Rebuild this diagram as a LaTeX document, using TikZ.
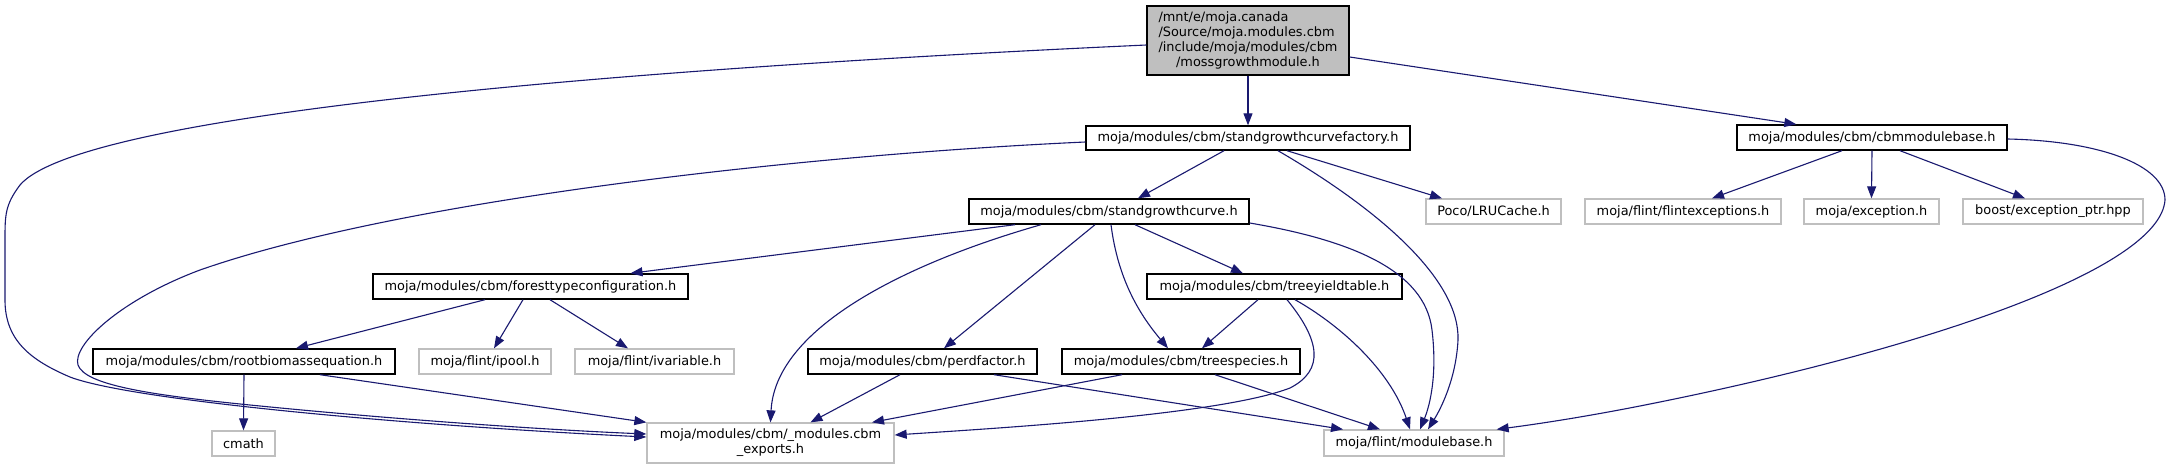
\documentclass[tikz,border=0pt]{standalone}
\usepackage{fontspec}
\setmainfont{DejaVu Sans}
\usetikzlibrary{arrows.meta}
\definecolor{edgeblue}{HTML}{191970}
\definecolor{greyBorder}{HTML}{BFBFBF}
\definecolor{rootfill}{HTML}{BFBFBF}
\tikzset{
  nbox/.style={draw=black, line width=1.4pt, fill=white, inner sep=0pt, text=black, font=\fontsize{12.9}{15}\selectfont},
  xbox/.style={draw=greyBorder, line width=1.3pt, fill=white, inner sep=0pt, text=black, font=\fontsize{12.9}{15}\selectfont},
  e/.style={draw=edgeblue, line width=1.1pt, -{Triangle[length=12pt,width=9pt]}, fill=none}
}
\begin{document}
\begin{tikzpicture}[x=1pt,y=-1pt]
\fill[white] (0,0) rectangle (2172,469);
\useasboundingbox (0,0) rectangle (2172,469);
% nodes
\node[nbox, fill=rootfill, minimum width=202pt, minimum height=69pt] (root) at (1248,40.5)
  {\begin{tabular}{@{}l@{}}/mnt/e/moja.canada\\/Source/moja.modules.cbm\\/include/moja/modules/cbm\\\multicolumn{1}{@{}c@{}}{/mossgrowthmodule.h}\end{tabular}};
\node[nbox, minimum width=324pt, minimum height=24pt] (factory) at (1248,138) {moja/modules/cbm/standgrowthcurvefactory.h};
\node[nbox, minimum width=270pt, minimum height=25pt] (cbm) at (1872,137.5) {moja/modules/cbm/cbmmodulebase.h};
\node[nbox, minimum width=280pt, minimum height=25pt] (sgc) at (1109,211.5) {moja/modules/cbm/standgrowthcurve.h};
\node[xbox, minimum width=135pt, minimum height=25pt] (poco) at (1493.5,211.5) {Poco/LRUCache.h};
\node[xbox, minimum width=196pt, minimum height=25pt] (flint) at (1683,211.5) {moja/flint/flintexceptions.h};
\node[xbox, minimum width=135pt, minimum height=25pt] (exc) at (1871.5,211.5) {moja/exception.h};
\node[xbox, minimum width=180pt, minimum height=25pt] (boost) at (2053,211.5) {boost/exception\_ptr.hpp};
\node[nbox, minimum width=315pt, minimum height=25pt] (ftc) at (530.5,286.5) {moja/modules/cbm/foresttypeconfiguration.h};
\node[nbox, minimum width=255pt, minimum height=25pt] (ty) at (1274.5,286.5) {moja/modules/cbm/treeyieldtable.h};
\node[nbox, minimum width=302pt, minimum height=25pt] (rb) at (244,361.5) {moja/modules/cbm/rootbiomassequation.h};
\node[xbox, minimum width=132pt, minimum height=25pt] (ipool) at (485,361.5) {moja/flint/ipool.h};
\node[xbox, minimum width=159pt, minimum height=25pt] (ivar) at (654.5,361.5) {moja/flint/ivariable.h};
\node[nbox, minimum width=229pt, minimum height=25pt] (pd) at (922.5,361.5) {moja/modules/cbm/perdfactor.h};
\node[nbox, minimum width=238pt, minimum height=25pt] (ts) at (1181,361.5) {moja/modules/cbm/treespecies.h};
\node[xbox, minimum width=63pt, minimum height=25pt] (cmath) at (243.5,443.5) {cmath};
\node[xbox, minimum width=247pt, minimum height=40pt, align=center] (exports) at (770.5,443) {moja/modules/cbm/\_modules.cbm\\\_exports.h};
\node[xbox, minimum width=180pt, minimum height=26pt] (mb) at (1414,443) {moja/flint/modulebase.h};
% edges
\draw[e] (root.south) -- (factory.north);
\draw[e] ([yshift=-16.5pt]root.east) -- ([xshift=60pt]cbm.north west);
\draw[e] ([yshift=-4.5pt]root.west) .. controls (600,70) and (80,115) .. (20,185) .. controls (5,205) and (5,215) .. (5,240) -- (5,300) .. controls (5,340) and (30,360) .. (70,377) .. controls (130,400) and (400,425) .. ([yshift=6pt]exports.west);
\draw[e] ([yshift=-4pt]factory.west) .. controls (800,155) and (400,200) .. (200,270) .. controls (120,300) and (72,345) .. (78,365) .. controls (85,385) and (150,395) .. (250,405) .. controls (400,420) and (550,430) .. ([yshift=9pt]exports.west);
\draw[e] ([xshift=-24pt]factory.south) -- ([xshift=29pt]sgc.north);
\draw[e] ([xshift=39pt]factory.south) -- ([xshift=-51.5pt]poco.north);
\draw[e] ([xshift=30pt]factory.south) .. controls (1380,210) and (1460,280) .. (1458,340) .. controls (1456,380) and (1440,410) .. ([xshift=14pt]mb.north);
\draw[e] ([xshift=-30pt]cbm.south) -- ([xshift=29pt]flint.north);
\draw[e] (cbm.south) -- (exc.north);
\draw[e] ([xshift=28pt]cbm.south) -- ([xshift=-28pt]boost.north);
\draw[e] ([yshift=-1.5pt]cbm.east) .. controls (2100,141) and (2165,165) .. (2165,200) .. controls (2160,270) and (1920,350) .. (1650,404) .. controls (1580,418) and (1530,425) .. ([xshift=-8pt]mb.north east);
\draw[e] ([xshift=-94pt]sgc.south) -- ([xshift=100pt]ftc.north);
\draw[e] ([xshift=-68pt]sgc.south) .. controls (900,265) and (775,330) .. (exports.north);
\draw[e] ([xshift=-14pt]sgc.south) -- ([xshift=21.5pt]pd.north);
\draw[e] ([xshift=2pt]sgc.south) .. controls (1118,280) and (1140,315) .. ([xshift=-13pt]ts.north);
\draw[e] ([xshift=26pt]sgc.south) -- ([xshift=-31.5pt]ty.north);
\draw[e] ([yshift=-11.5pt]sgc.east) .. controls (1350,240) and (1425,270) .. (1432,330) .. controls (1438,380) and (1428,410) .. ([xshift=6pt]mb.north);
\draw[e] ([xshift=-45.5pt]ftc.south) -- ([xshift=52pt]rb.north);
\draw[e] ([xshift=-7.5pt]ftc.south) -- ([xshift=9pt]ipool.north);
\draw[e] ([xshift=19.5pt]ftc.south) -- ([xshift=-26.5pt]ivar.north);
\draw[e] ([xshift=-16.5pt]ty.south) -- ([xshift=21pt]ts.north);
\draw[e] ([xshift=12.5pt]ty.south) .. controls (1320,340) and (1325,370) .. (1290,388) .. controls (1220,415) and (1000,428) .. ([yshift=8pt]exports.east);
\draw[e] ([xshift=20.5pt]ty.south) .. controls (1340,325) and (1390,370) .. ([xshift=-4pt]mb.north);
\draw[e] (rb.south) -- (cmath.north);
\draw[e] ([xshift=76pt]rb.south) -- (exports.north west);
\draw[e] ([xshift=-22.5pt]pd.south) -- ([xshift=40pt]exports.north);
\draw[e] ([xshift=71.5pt]pd.south) -- ([xshift=-71pt]mb.north);
\draw[e] ([xshift=-59pt]ts.south) -- ([xshift=101.5pt]exports.north);
\draw[e] ([xshift=34pt]ts.south) -- ([xshift=-34pt]mb.north);
\end{tikzpicture}
\end{document}
